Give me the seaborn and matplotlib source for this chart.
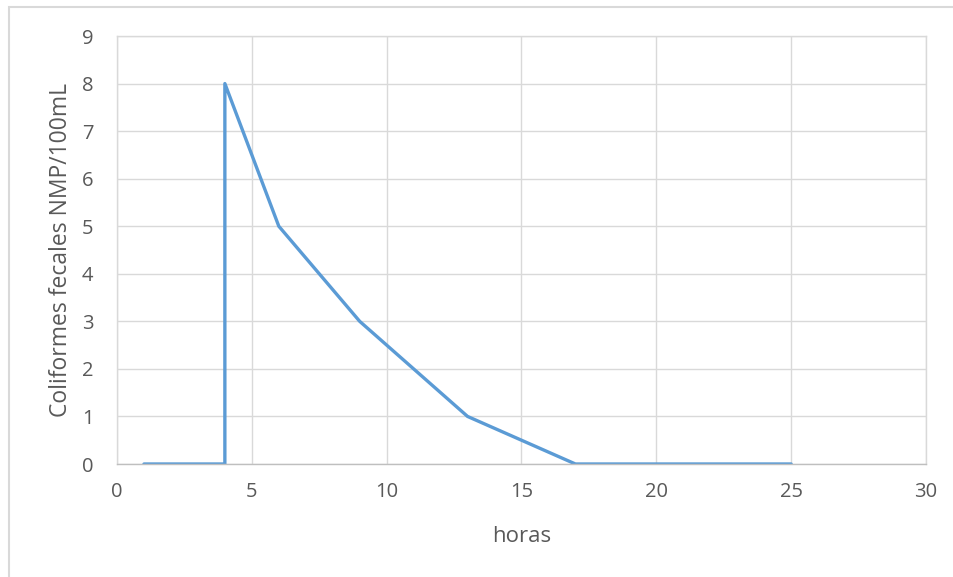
import matplotlib
matplotlib.use("Agg")
import matplotlib.pyplot as plt
from matplotlib.patches import Rectangle
import seaborn as sns
import pandas as pd

# Coliform counts over time
horas = [1, 4, 4, 6, 9, 13, 17, 25]
coliformes = [0, 0, 8, 5, 3, 1, 0, 0]
x_ticks = [0, 5, 10, 15, 20, 25, 30]
y_ticks = [0, 1, 2, 3, 4, 5, 6, 7, 8, 9]

df = pd.DataFrame({"horas": horas, "coliformes": coliformes})

sns.set_theme(style="white")
plt.rcParams["font.family"] = ["Open Sans", "DejaVu Sans"]

text_color = "#595959"
grid_color = "#D9D9D9"

fig = plt.figure(figsize=(9.54, 5.77), dpi=100)
ax = fig.add_axes([117 / 954, 1 - 464 / 577, (926 - 117) / 954, (464 - 36) / 577])

sns.lineplot(data=df, x="horas", y="coliformes", sort=False, ax=ax,
             color="#5B9BD5", linewidth=2.4, estimator=None)

ax.set_xlim(0, 30)
ax.set_ylim(0, 9)
ax.set_xticks(x_ticks)
ax.set_yticks(y_ticks)
ax.grid(True, color=grid_color, linewidth=1)
ax.set_axisbelow(True)
for side in ["top", "right", "left"]:
    ax.spines[side].set_color(grid_color)
    ax.spines[side].set_linewidth(1)
ax.spines["bottom"].set_color("#BFBFBF")
ax.spines["bottom"].set_linewidth(1)
ax.tick_params(axis="both", length=0, labelsize=14.5, labelcolor=text_color)
ax.tick_params(axis="x", pad=13)
ax.tick_params(axis="y", pad=17)

ax.set_xlabel("horas", fontsize=16, color=text_color, labelpad=17)
ax.set_ylabel("Coliformes fecales NMP/100mL", fontsize=16.5, color=text_color, labelpad=6)

# Outer chart border
fig.patches.append(Rectangle((9 / 954, -0.1), 1.2, 1 - 7 / 577 + 0.1,
                             transform=fig.transFigure, fill=False,
                             edgecolor=grid_color, linewidth=1.5))

fig.savefig("out.png", dpi=100, facecolor="white")
